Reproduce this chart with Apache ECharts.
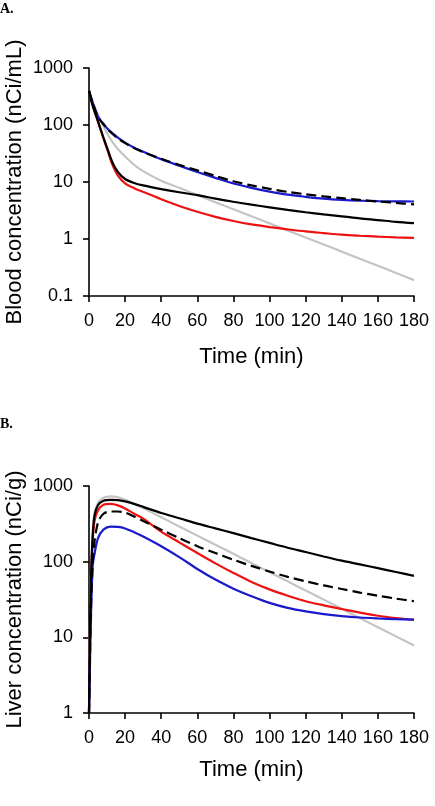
<!DOCTYPE html>
<html>
<head>
<meta charset="utf-8">
<script src="https://cdn.jsdelivr.net/npm/echarts@6/dist/echarts.min.js"></script>
<style>
  html, body { margin: 0; padding: 0; background: #fff; }
  #chart { width: 435px; height: 806px; }
</style>
</head>
<body>
<div id="chart"></div>
<script>
// panel A: blood, panel B: liver
const timeBlood = [0, 2, 5, 8, 10, 13, 16, 20, 25, 30, 40, 50, 60, 70, 80, 90, 100, 110, 120, 130, 140, 150, 160, 170, 180];
const bloodBlue = [400, 250, 140, 105, 88, 72, 60, 49, 40, 34, 25, 19.3, 15, 11.8, 9.4, 7.9, 6.8, 6.0, 5.5, 5.1, 4.85, 4.7, 4.62, 4.57, 4.55];
const bloodDashed = [400, 245, 138, 103, 86, 70, 58, 48, 39.5, 33.5, 25.5, 20, 16, 12.8, 10.3, 8.7, 7.6, 6.7, 6.1, 5.6, 5.2, 4.85, 4.55, 4.3, 4.05];
const bloodBlack = [400, 220, 115, 60, 40, 22, 15, 11.3, 9.6, 8.7, 7.5, 6.6, 5.9, 5.1, 4.5, 4.0, 3.6, 3.25, 2.95, 2.7, 2.5, 2.3, 2.15, 2.0, 1.9];
const bloodRed = [400, 220, 115, 58, 38, 20, 13, 9.5, 7.8, 6.7, 5.0, 3.8, 3.0, 2.45, 2.07, 1.8, 1.62, 1.48, 1.36, 1.27, 1.19, 1.14, 1.1, 1.07, 1.05];
const bloodGray = [400, 260, 150, 95, 72, 50, 38, 28, 20, 15.5, 10.5, 7.9, 5.9, 4.43, 3.33, 2.5, 1.88, 1.41, 1.06, 0.8, 0.6, 0.45, 0.34, 0.254, 0.19];

const timeLiver = [0, 0.5, 1, 2, 3, 5, 8, 12, 16, 20, 25, 30, 40, 50, 60, 70, 80, 90, 100, 110, 120, 130, 140, 150, 160, 170, 180];
const liverGray = [1, 12, 55, 230, 430, 600, 700, 730, 710, 660, 580, 510, 386, 292, 221, 167, 127, 96, 72.5, 55, 41.5, 31.5, 23.8, 18, 13.6, 10.3, 7.8];
const liverBlack = [1, 10, 50, 210, 400, 560, 640, 655, 650, 625, 580, 530, 440, 375, 318, 275, 238, 205, 177, 153, 134, 117, 103, 92, 82, 73, 65];
const liverRed = [1, 9, 45, 180, 340, 480, 565, 580, 555, 505, 430, 370, 250, 180, 130, 95, 71, 54, 43, 35.5, 30, 26.5, 23.7, 21.2, 19.3, 18, 17];
const liverDashed = [1, 5, 22, 90, 180, 330, 430, 460, 460, 445, 395, 345, 265, 205, 160, 130, 106, 88, 74, 63, 55, 48.5, 43.5, 39, 35.5, 32.5, 30];
const liverBlue = [1, 4, 15, 85, 125, 205, 265, 290, 288, 275, 245, 215, 160, 115, 80, 58, 44, 35, 28.5, 24.5, 22, 20.3, 19.1, 18.3, 17.8, 17.4, 17.1];

const xTicks = [0, 20, 40, 60, 80, 100, 120, 140, 160, 180];

const FONT = 'Liberation Sans';

function pairs(t, v) {
    return t.map((x, i) => [x, v[i]]);
}

function line(name, t, v, idx, color, dashed) {
    return {
        name: name,
        type: 'line',
        xAxisIndex: idx,
        yAxisIndex: idx,
        data: pairs(t, v),
        showSymbol: false,
        smooth: 0.3,
        lineStyle: { color: color, width: 2.2, type: dashed ? [10, 5] : 'solid' },
        z: dashed ? 5 : 3
    };
}

function xAx(idx, gap) {
    return {
        type: 'value', gridIndex: idx, min: 0, max: 180, interval: 20,
        name: 'Time (min)', nameLocation: 'middle', nameGap: gap, nameMoveOverlap: false,
        nameTextStyle: { fontFamily: FONT, fontSize: 22, color: '#000' },
        axisLine: { lineStyle: { color: '#000', width: 1.6 } },
        axisTick: { length: 6, lineStyle: { color: '#000', width: 1.6 } },
        axisLabel: { fontFamily: FONT, fontSize: 18, color: '#000', margin: 16,
            formatter: v => xTicks.includes(v) ? String(v) : '' },
        splitLine: { show: false }
    };
}

function yAx(idx, min, max, name) {
    return {
        type: 'log', logBase: 10, gridIndex: idx, min: min, max: max,
        name: name, nameLocation: 'middle', nameRotate: 90, nameGap: 63, nameMoveOverlap: false,
        nameTextStyle: { fontFamily: FONT, fontSize: 22, color: '#000' },
        axisLine: { show: true, lineStyle: { color: '#000', width: 1.6 } },
        axisTick: { show: true, length: 6, lineStyle: { color: '#000', width: 1.6 } },
        axisLabel: { fontFamily: FONT, fontSize: 18, color: '#000', margin: 16,
            formatter: v => String(+(+v).toPrecision(3)) },
        splitLine: { show: false }
    };
}

const chart = echarts.init(document.getElementById('chart'));
chart.setOption({
    animation: false,
    backgroundColor: '#fff',
    title: [
        { text: 'A.', left: 0, top: 2, padding: 0,
          textStyle: { fontFamily: 'Liberation Serif', fontWeight: 'bold', fontSize: 14, color: '#000' } },
        { text: 'B.', left: 0, top: 417, padding: 0,
          textStyle: { fontFamily: 'Liberation Serif', fontWeight: 'bold', fontSize: 14, color: '#000' } }
    ],
    grid: [
        { left: 89, top: 68, width: 325, height: 228, outerBoundsMode: 'none' },
        { left: 89, top: 486, width: 325, height: 227, outerBoundsMode: 'none' }
    ],
    xAxis: [xAx(0, 50), xAx(1, 46)],
    yAxis: [
        yAx(0, 0.1, 1000, 'Blood concentration (nCi/mL)'),
        yAx(1, 1, 1000, 'Liver concentration (nCi/g)')
    ],
    series: [
        line('gray', timeBlood, bloodGray, 0, '#c4c4c4', false),
        line('red', timeBlood, bloodRed, 0, '#ee1111', false),
        line('blue', timeBlood, bloodBlue, 0, '#1a1acc', false),
        line('black', timeBlood, bloodBlack, 0, '#000', false),
        line('dashed', timeBlood, bloodDashed, 0, '#000', true),
        line('gray', timeLiver, liverGray, 1, '#c4c4c4', false),
        line('red', timeLiver, liverRed, 1, '#ee1111', false),
        line('blue', timeLiver, liverBlue, 1, '#1a1acc', false),
        line('black', timeLiver, liverBlack, 1, '#000', false),
        line('dashed', timeLiver, liverDashed, 1, '#000', true)
    ]
});
</script>
</body>
</html>
